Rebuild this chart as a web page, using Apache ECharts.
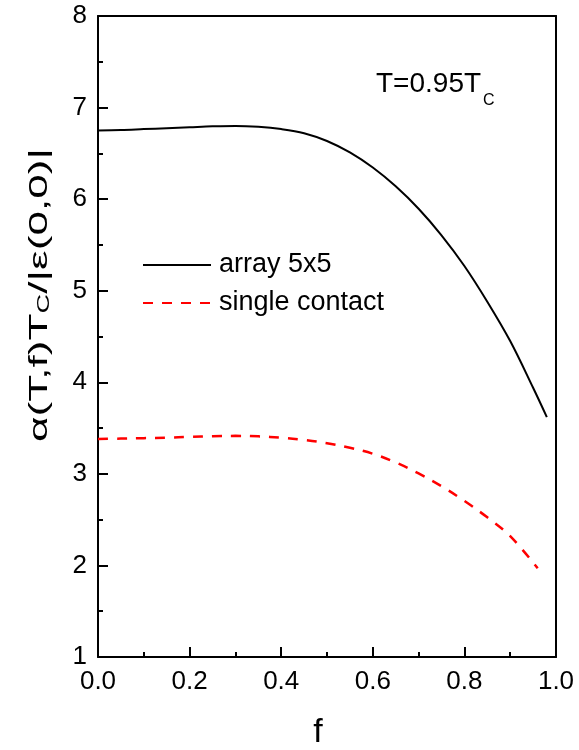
<!DOCTYPE html>
<html>
<head>
<meta charset="utf-8">
<script src="https://cdn.jsdelivr.net/npm/echarts@6/dist/echarts.min.js"></script>
<style>
html,body{margin:0;padding:0;background:#fff;}
#main{width:579px;height:750px;}
</style>
</head>
<body>
<div id="main"></div>
<script>
// Data
const fArray = [0, 0.05, 0.1, 0.15, 0.2, 0.25, 0.3, 0.35, 0.4, 0.45, 0.5, 0.55, 0.6, 0.65, 0.7, 0.75, 0.8, 0.85, 0.9, 0.95, 0.98];
const alphaArray = [6.75, 6.755, 6.765, 6.775, 6.785, 6.795, 6.80, 6.79, 6.765, 6.72, 6.635, 6.51, 6.345, 6.14, 5.895, 5.605, 5.27, 4.88, 4.45, 3.94, 3.62];
const fSingle = [0, 0.05, 0.1, 0.15, 0.2, 0.25, 0.3, 0.35, 0.4, 0.45, 0.5, 0.55, 0.6, 0.65, 0.7, 0.75, 0.8, 0.85, 0.9, 0.96];
const alphaSingle = [3.38, 3.385, 3.39, 3.395, 3.405, 3.41, 3.415, 3.41, 3.395, 3.37, 3.335, 3.285, 3.22, 3.125, 3.005, 2.865, 2.705, 2.525, 2.32, 1.97];
const seriesNames = ['array 5x5', 'single contact'];
const xTicks = {min: 0, max: 1, interval: 0.2};
const yTicks = {min: 1, max: 8, interval: 1};

const chart = echarts.init(document.getElementById('main'));
const FONT = 'Liberation Sans, Arial, sans-serif';
const axisLineStyle = {color: '#000', width: 2};

const option = {
  backgroundColor: '#fff',
  animation: false,
  grid: {left: 98, right: 23, top: 16, bottom: 93},
  legend: {
    left: 142, top: 250, orient: 'vertical', padding: 0,
    itemWidth: 68, itemHeight: 14, itemGap: 8,
    data: seriesNames,
    itemStyle: {opacity: 0},
    textStyle: {fontFamily: FONT, fontSize: 27, color: '#000', lineHeight: 30, padding: [0, 0, 0, 3]}
  },
  xAxis: [{
    type: 'value', min: xTicks.min, max: xTicks.max, interval: xTicks.interval,
    axisLine: {show: true, onZero: false, lineStyle: axisLineStyle},
    axisTick: {show: true, inside: true, length: 10, lineStyle: {color: '#000', width: 2}},
    minorTick: {show: true, splitNumber: 2, length: 5, lineStyle: {color: '#000', width: 2}},
    splitLine: {show: false},
    axisLabel: {fontFamily: FONT, fontSize: 26, color: '#000', margin: 12, formatter: v => v.toFixed(1)}
  }, {
    type: 'value', position: 'top', min: xTicks.min, max: xTicks.max,
    axisLine: {show: true, onZero: false, lineStyle: axisLineStyle},
    axisTick: {show: false}, axisLabel: {show: false}, splitLine: {show: false}
  }],
  yAxis: [{
    type: 'value', min: yTicks.min, max: yTicks.max, interval: yTicks.interval,
    axisLine: {show: true, onZero: false, lineStyle: axisLineStyle},
    axisTick: {show: true, inside: true, length: 10, lineStyle: {color: '#000', width: 2}},
    minorTick: {show: true, splitNumber: 2, length: 5, lineStyle: {color: '#000', width: 2}},
    splitLine: {show: false},
    axisLabel: {fontFamily: FONT, fontSize: 26, color: '#000', margin: 11}
  }, {
    type: 'value', position: 'right', min: yTicks.min, max: yTicks.max,
    axisLine: {show: true, onZero: false, lineStyle: axisLineStyle},
    axisTick: {show: false}, axisLabel: {show: false}, splitLine: {show: false}
  }],
  series: [{
    name: seriesNames[0], type: 'line', xAxisIndex: 0, yAxisIndex: 0,
    data: fArray.map((f, i) => [f, alphaArray[i]]),
    smooth: 0.35, showSymbol: false, symbol: 'none',
    lineStyle: {color: '#000', width: 2}, itemStyle: {color: '#000'}
  }, {
    name: seriesNames[1], type: 'line', xAxisIndex: 0, yAxisIndex: 0,
    data: fSingle.map((f, i) => [f, alphaSingle[i]]),
    smooth: 0.35, showSymbol: false, symbol: 'none',
    lineStyle: {color: '#ff0000', width: 2.5, type: [10, 9]}, itemStyle: {color: '#ff0000'}
  }],
  graphic: [{
    type: 'text', x: 318, y: 733,
    style: {text: 'f', font: '34px ' + FONT, fill: '#000', align: 'center', verticalAlign: 'middle'}
  }, {
    type: 'text', x: 40, y: 295, rotation: Math.PI / 2, scaleX: 1.7, scaleY: 1,
    style: {
      text: 'α(T,f)T{sub|C}/|ε(0,0)|', font: '26px ' + FONT, fill: '#000',
      align: 'center', verticalAlign: 'middle',
      rich: {sub: {fontSize: 16, fontFamily: FONT, fill: '#000', padding: [10, 0, 0, 0]}}
    }
  }, {
    type: 'text', x: 376, y: 84,
    style: {
      text: 'T=0.95T{sub|C}', font: '28px ' + FONT, fill: '#000',
      align: 'left', verticalAlign: 'middle',
      rich: {sub: {fontSize: 16, fontFamily: FONT, fill: '#000', padding: [34, 0, 0, 2]}}
    }
  }]
};
chart.setOption(option);
</script>
</body>
</html>
